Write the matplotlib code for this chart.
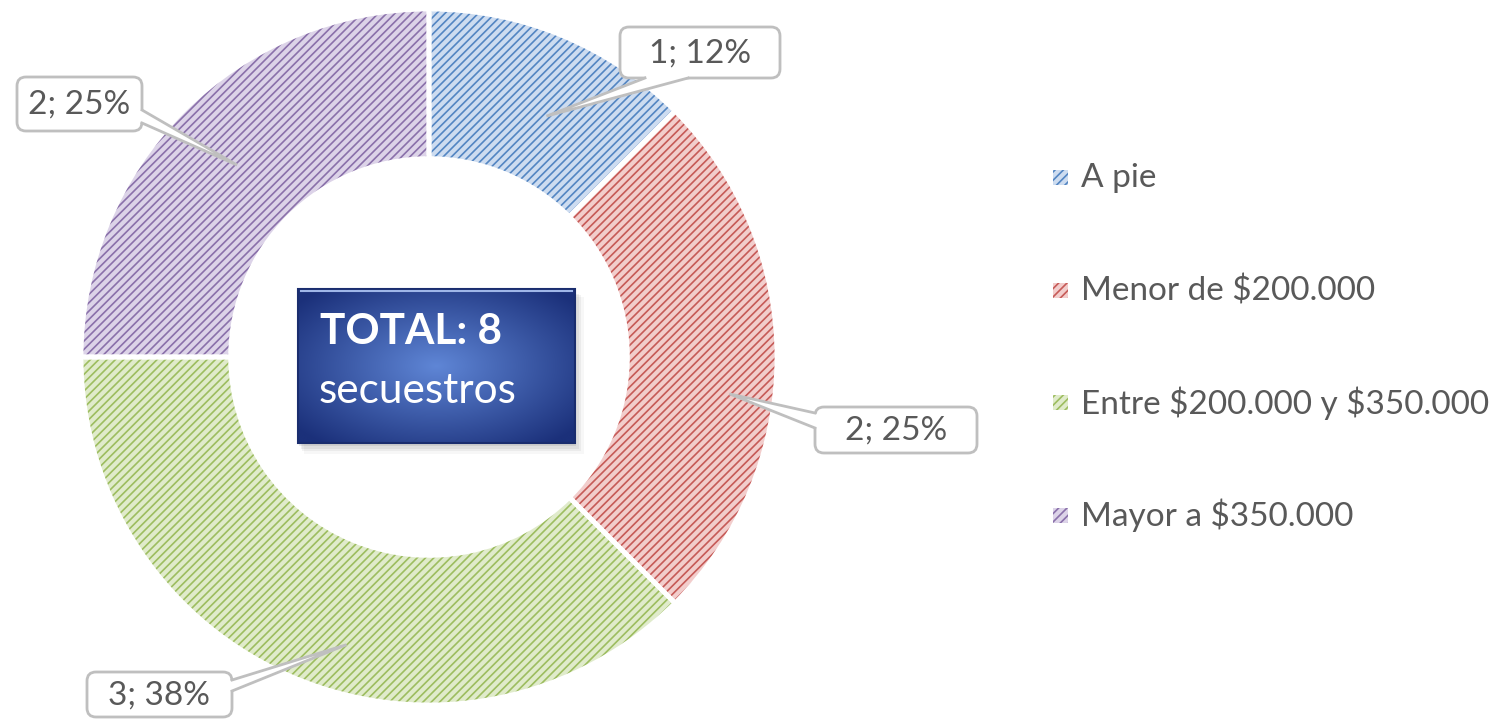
import numpy as np
import matplotlib
matplotlib.use("Agg")
import matplotlib.pyplot as plt
from matplotlib.patches import FancyBboxPatch, Rectangle, Polygon

# ---- data ----
categories = ["A pie", "Menor de $200.000", "Entre $200.000 y $350.000", "Mayor a $350.000"]
counts = [1, 2, 3, 2]
pct_labels = ["1; 12%", "2; 25%", "3; 38%", "2; 25%"]
total_title = "TOTAL: 8"
total_sub = "secuestros"

face_colors = ["#cddcf0", "#f2cdcc", "#e0ebcb", "#dcd3e8"]
hatch_colors = ["#5385c2", "#c65a57", "#9dbd5f", "#8a70aa"]

plt.rcParams['font.family'] = ['Lato', 'DejaVu Sans']
plt.rcParams['hatch.linewidth'] = 1.2

W, H = 1512, 720
fig = plt.figure(figsize=(W / 100, H / 100), dpi=100)
fig.patch.set_facecolor("white")

# pie axes geometry (pixels from top-left)
cx, cy, R = 429, 357, 348
ax = fig.add_axes([(cx - R) / W, (H - cy - R) / H, 2 * R / W, 2 * R / H])
ring_w = 0.43

# base fill
wedges, _ = ax.pie(counts, startangle=90, counterclock=False, colors=face_colors,
                   radius=1, wedgeprops=dict(width=ring_w, linewidth=0))
# hatch overlay
wh, _ = ax.pie(counts, startangle=90, counterclock=False, radius=1,
               wedgeprops=dict(width=ring_w, linewidth=0, facecolor="none"))
for w, hc in zip(wh, hatch_colors):
    w.set_hatch("////")
    w.set_edgecolor(hc)
    w.set_linewidth(0)
# white separators
ws, _ = ax.pie(counts, startangle=90, counterclock=False, radius=1,
               wedgeprops=dict(width=ring_w, linewidth=3.5, edgecolor="white",
                               facecolor="none"))
ax.set_xlim(-1, 1)
ax.set_ylim(-1, 1)
ax.set_aspect("equal")

# overlay axes in pixel coordinates
ov = fig.add_axes([0, 0, 1, 1])
ov.set_xlim(0, W)
ov.set_ylim(H, 0)
ov.axis("off")

# ---- data labels with callouts ----
boxes = [
    ((620, 27, 780, 78), [(645, 78), (688, 78)]),
    ((815, 407, 977, 453), [(815, 413), (815, 428)]),
    ((87, 672, 232, 717), [(232, 680), (232, 691)]),
    ((17, 77, 142, 131), [(142, 110), (142, 123)]),
]
tip_r = [0.77, 0.87, 0.86, 0.78]
tip_shift = [-3.5, -7, 6.5, 0]
cum = np.cumsum([0] + counts)
tot = sum(counts)
gray = "#bfbfbf"
for i, ((x0, y0, x1, y1), base) in enumerate(boxes):
    mid = 90 - 360 * (cum[i] + cum[i + 1]) / 2 / tot + tip_shift[i]
    a = np.deg2rad(mid)
    tx = cx + tip_r[i] * R * np.cos(a)
    ty = cy - tip_r[i] * R * np.sin(a)
    bp = FancyBboxPatch((x0, y0), x1 - x0, y1 - y0,
                        boxstyle="round,pad=0,rounding_size=9",
                        facecolor="white", edgecolor=gray, linewidth=2, zorder=5)
    ov.add_patch(bp)
    (bx1, by1), (bx2, by2) = base
    ccx, ccy = (x0 + x1) / 2, (y0 + y1) / 2
    def inside(px, py):
        return px + (ccx - px) * 0.04, py + (ccy - py) * 0.12
    ib1 = inside(bx1, by1)
    ib2 = inside(bx2, by2)
    ov.add_patch(Polygon([ib1, (bx1, by1), (tx, ty), (bx2, by2), ib2], closed=True,
                         facecolor="white", edgecolor="none", zorder=6))
    ov.plot([bx1, tx, bx2], [by1, ty, by2], color=gray, lw=2, zorder=7,
            solid_joinstyle="miter")
    ov.text(ccx, ccy + 1, pct_labels[i], ha="center", va="center",
            fontsize=24, color="#595959", zorder=8, parse_math=False)

# ---- center total box ----
bx0, by0, bx1_, by1_ = 298, 289, 575, 443
for k, al in enumerate([0.10, 0.08, 0.06, 0.04]):
    off = 2 + k * 1.5
    ov.add_patch(Rectangle((bx0 + off - 1, by0 + off + 1), bx1_ - bx0 + k, by1_ - by0 + k,
                           facecolor="#404040", edgecolor="none", alpha=al, zorder=9))
nx, ny = 300, 200
xx, yy = np.meshgrid(np.linspace(-1, 1, nx), np.linspace(-1, 1, ny))
rr = np.clip(np.sqrt(xx ** 2 + yy ** 2) / 1.3, 0, 1)
c_in = np.array([0x5f, 0x86, 0xd6]) / 255
c_out = np.array([0x1b, 0x30, 0x7a]) / 255
img = c_in[None, None, :] * (1 - rr[..., None]) + c_out[None, None, :] * rr[..., None]
ov.imshow(img, extent=[bx0, bx1_, by1_, by0], zorder=10, interpolation="bilinear",
          aspect="auto")
ov.add_patch(Rectangle((bx0, by0), bx1_ - bx0, by1_ - by0, facecolor="none",
                       edgecolor="#1a2d6e", linewidth=1.5, zorder=11))
ov.plot([bx0 + 3, bx1_ - 3], [by0 + 2, by0 + 2], color="#9fb6e8", lw=1.5, zorder=11)
ov.set_xlim(0, W)
ov.set_ylim(H, 0)
ov.text(320, 344, total_title, ha="left", va="baseline", fontsize=30.5,
        fontweight="bold", color="white", zorder=12)
ov.text(319, 403, total_sub, ha="left", va="baseline", fontsize=30.5,
        color="white", zorder=12)

# ---- legend ----
leg_y0, leg_dy = 178, 112.5
for i, lab in enumerate(categories):
    y = leg_y0 + i * leg_dy
    ov.add_patch(Rectangle((1053, y - 8), 15, 15, facecolor=face_colors[i],
                           edgecolor="none", zorder=5))
    r = Rectangle((1053, y - 8), 15, 15, facecolor="none",
                  edgecolor=hatch_colors[i], linewidth=0, hatch="////", zorder=6)
    ov.add_patch(r)
    ov.text(1081, y, lab, ha="left", va="center", fontsize=24, color="#595959",
            parse_math=False)

fig.savefig("out.png", dpi=100)
